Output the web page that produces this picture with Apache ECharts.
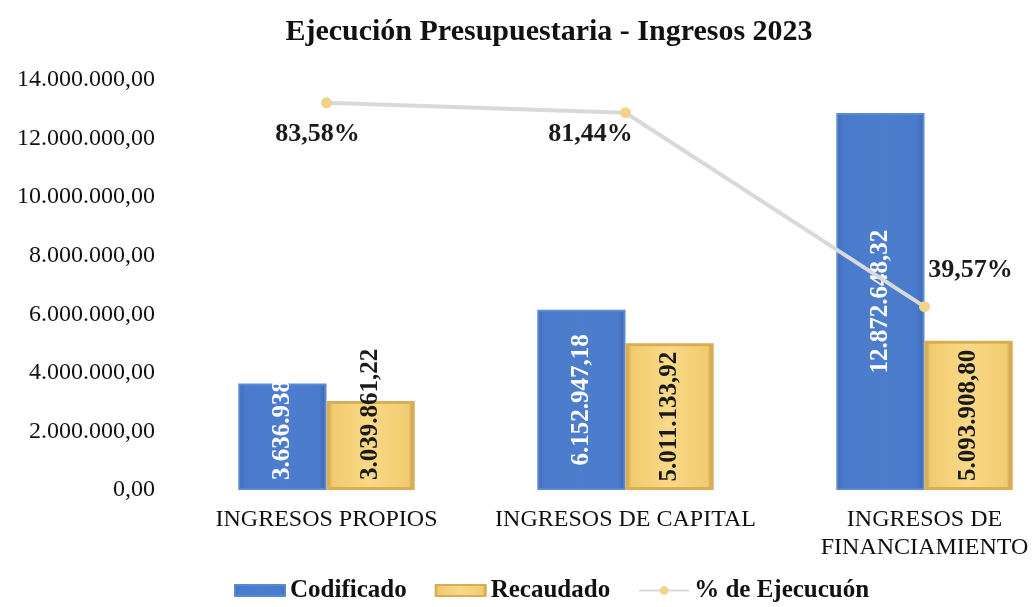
<!DOCTYPE html>
<html>
<head>
<meta charset="utf-8">
<script src="https://cdn.jsdelivr.net/npm/echarts@6/dist/echarts.min.js"></script>
<style>
  html, body { margin: 0; padding: 0; background: #fff; }
  #chart { width: 1035px; height: 607px; }
</style>
</head>
<body>
<div id="chart"></div>
<script>
  const categories = ['INGRESOS PROPIOS', 'INGRESOS DE CAPITAL', 'INGRESOS DE\nFINANCIAMIENTO']
  const codificado = [3636938.39, 6152947.18, 12872648.32]
  const recaudado = [3039861.22, 5011133.92, 5093908.80]
  const ejecucion = [83.58, 81.44, 39.57]
  // posicion de cada etiqueta de porcentaje respecto al punto
  const pctOffsets = [[-9, 31], [-35, 22], [46, -36]]
  // etiquetas de barras cortas van abajo, las otras al centro
  const labelPos = ['insideBottom', 'inside', 'inside']

  const serif = '"Liberation Serif", "DejaVu Serif", serif'

  // formato 1.234.567,89
  const fmt = (v, dec) => {
    const parts = Number(v).toFixed(dec).split('.')
    parts[0] = parts[0].replace(/\B(?=(\d{3})+(?!\d))/g, '.')
    return parts.join(',')
  }

  const barData = values => values.map((v, i) => ({
    value: v,
    label: {
      position: labelPos[i],
      align: labelPos[i] === 'insideBottom' ? 'left' : 'center',
      verticalAlign: 'middle',
    },
  }))

  const barLabel = color => ({
    show: true,
    rotate: 90,
    distance: 10,
    fontFamily: serif,
    fontSize: 25,
    fontWeight: 'bold',
    color: color,
    formatter: p => fmt(p.value, 2),
  })

  const myChart = echarts.init(document.getElementById('chart'))

  const option = {
    animation: false,
    title: {
      text: 'Ejecución Presupuestaria - Ingresos 2023',
      left: 544,
      top: 12,
      textAlign: 'center',
      textStyle: { fontFamily: serif, fontSize: 30, fontWeight: 'bold', color: '#111' },
    },
    legend: {
      top: 576,
      left: 232,
      padding: 2,
      itemWidth: 50,
      itemHeight: 11,
      itemGap: 28,
      textStyle: { fontFamily: serif, fontSize: 25, fontWeight: 'bold', color: '#111' },
      data: [
        { name: 'Codificado', icon: 'rect' },
        { name: 'Recaudado', icon: 'rect' },
        { name: '% de Ejecucuón' },
      ],
    },
    grid: { left: 177, width: 897, top: 80, bottom: 117, outerBoundsMode: 'none', containLabel: false },
    xAxis: {
      type: 'category',
      data: categories,
      axisLine: { show: false },
      axisTick: { show: false },
      axisLabel: {
        interval: 0,
        margin: 16,
        lineHeight: 28,
        fontFamily: serif,
        fontSize: 24,
        color: '#111',
      },
    },
    yAxis: [
      {
        type: 'value',
        min: 0,
        max: 14000000,
        interval: 2000000,
        axisLine: { show: false },
        axisTick: { show: false },
        splitLine: { show: false },
        axisLabel: {
          margin: 22,
          fontFamily: serif,
          fontSize: 24,
          color: '#111',
          formatter: v => fmt(v, 2),
        },
      },
      {
        type: 'value',
        min: 0,
        max: 88.5,
        show: false,
        splitLine: { show: false },
      },
    ],
    series: [
      {
        name: 'Codificado',
        type: 'bar',
        barGap: 0,
        barCategoryGap: '41%',
        data: barData(codificado),
        itemStyle: {
          color: new echarts.graphic.LinearGradient(0, 0, 1, 0, [
            { offset: 0, color: '#4069b5' },
            { offset: 0.08, color: '#4a7acb' },
            { offset: 0.5, color: '#4d7dcd' },
            { offset: 0.92, color: '#4a7acb' },
            { offset: 1, color: '#3c64ad' },
          ]),
          borderColor: '#5a8ad6',
          borderWidth: 2,
        },
        label: barLabel('#fff'),
      },
      {
        name: 'Recaudado',
        type: 'bar',
        data: barData(recaudado),
        itemStyle: {
          color: new echarts.graphic.LinearGradient(0, 0, 1, 0, [
            { offset: 0, color: '#c99a3e' },
            { offset: 0.07, color: '#f2cb70' },
            { offset: 0.5, color: '#f8d986' },
            { offset: 0.93, color: '#f2cb70' },
            { offset: 1, color: '#b88a34' },
          ]),
          borderColor: '#d8ad55',
          borderWidth: 3,
        },
        label: barLabel('#1a1a1a'),
      },
      {
        name: '% de Ejecucuón',
        type: 'line',
        yAxisIndex: 1,
        z: 5,
        symbol: 'circle',
        symbolSize: 11,
        lineStyle: { color: '#d9d9d9', width: 4 },
        itemStyle: { color: '#f3d38a' },
        data: ejecucion.map((v, i) => ({
          value: v,
          label: { offset: pctOffsets[i] },
        })),
        label: {
          show: true,
          position: 'inside',
          fontFamily: serif,
          fontSize: 26,
          fontWeight: 'bold',
          color: '#1a1a1a',
          formatter: p => fmt(p.value, 2) + '%',
        },
      },
    ],
  }

  myChart.setOption(option)
</script>
</body>
</html>
